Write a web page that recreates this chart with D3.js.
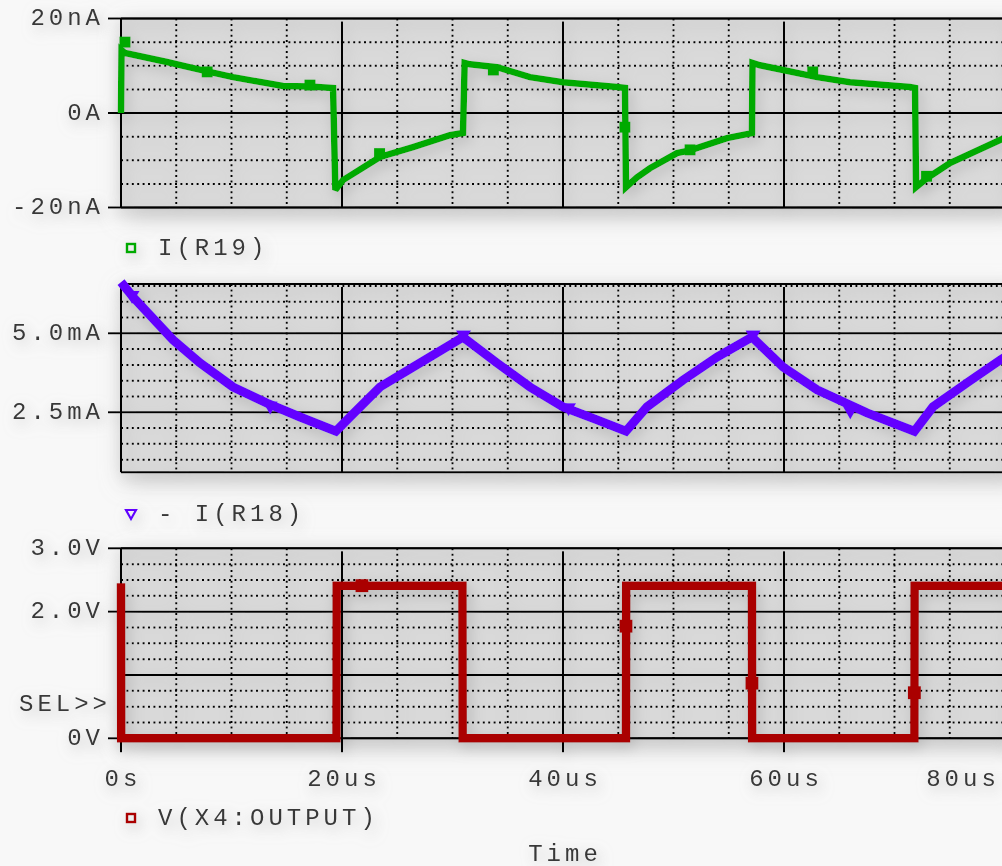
<!DOCTYPE html>
<html>
<head>
<meta charset="utf-8">
<script src="https://cdn.jsdelivr.net/npm/d3@7"></script>
<style>
  html, body { margin: 0; padding: 0; background: #f8f8f8; }
  svg { display: block; }
  text { font-family: "Liberation Mono", "DejaVu Sans Mono", monospace; font-size: 24px; fill: #383838; letter-spacing: 4px; }
</style>
</head>
<body>
<svg id="chart" width="1002" height="866"></svg>
<script>
// ---- data (time in microseconds) ----
const timeTicks = [0, 20, 40, 60, 80];
const timeLabels = ["0s", "20us", "40us", "60us", "80us"];

// I(R19) in nA
const r19Ticks = [20, 0, -20];
const r19Labels = ["20nA", "0A", "-20nA"];
const r19T = [0, 0.05, 0.36, 4.16, 7.8, 10.14, 14.66, 17.1, 19.19, 19.4, 20.09, 23.44, 26.43, 29.77, 30.95,
              31.1, 31.58, 34.03, 37.01, 40.0, 44.89, 45.61, 45.7, 46.7, 47.87, 50.32, 51.49, 54.84, 57.1,
              57.15, 57.83, 59.91, 62.99, 65.97, 71.4, 71.86, 71.95, 72.94, 75.02, 79.55, 80];
const r19V = [0, 13.3, 12.7, 10.8, 8.8, 7.6, 5.7, 5.6, 5.3, -16.3, -14.2, -9.3, -7.2, -4.7, -4.25,
              10.6, 10.3, 9.7, 7.6, 6.5, 5.5, 5.3, -15.7, -13.6, -11.7, -8.5, -7.9, -5.3, -4.25,
              10.6, 10.1, 9.1, 7.6, 6.5, 5.5, 5.3, -15.7, -13.8, -10.6, -5.7, -5.2];
const r19MarkT = [0.36, 7.8, 17.1, 23.4, 33.7, 45.6, 51.5, 62.6, 72.9];
const r19MarkV = [15.0, 8.7, 5.9, -8.6, 9.1, -3.0, -7.8, 8.7, -13.4];

// -I(R18) in mA
const r18Ticks = [5.0, 2.5];
const r18Labels = ["5.0mA", "2.5mA"];
const r18T = [0, 1.09, 4.71, 7.15, 10.14, 13.21, 16.2, 19.45, 20.72, 23.44, 26.43, 30.95,
              34.03, 37.01, 40.0, 43.08, 45.7, 47.6, 50.86, 53.94, 57.1,
              59.91, 62.99, 67.51, 71.8, 73.48, 76.56, 79.55, 80];
const r18V = [6.62, 6.15, 4.79, 4.06, 3.3, 2.79, 2.35, 1.9, 2.35, 3.3, 3.93, 4.88,
              4.06, 3.3, 2.67, 2.26, 1.9, 2.67, 3.52, 4.25, 4.88,
              3.93, 3.21, 2.48, 1.9, 2.67, 3.43, 4.15, 4.25];
const r18MarkT = [1.0, 13.5, 31.0, 40.5, 57.2, 66.0];
const r18MarkV = [6.2, 2.7, 4.95, 2.65, 4.95, 2.55];

// V(X4:OUTPUT) in V
const outTicks = [3.0, 2.0, 0];
const outLabels = ["3.0V", "2.0V", "0V"];
const outT = [0, 0.02, 19.5, 19.52, 30.9, 30.92, 45.7, 45.72, 57.1, 57.12, 71.8, 71.82, 80];
const outV = [2.45, 0, 0, 2.41, 2.41, 0, 0, 2.41, 2.41, 0, 0, 2.41, 2.41];
const outMarkT = [21.8, 45.7, 57.1, 71.8];
const outMarkV = [2.41, 1.77, 0.87, 0.72];

// ---- layout ----
const W = 1002, H = 866;
const left = 121, right = 1005;
const x = d3.scaleLinear().domain([0, 80]).range([left, right]);

const panels = [
  { y: d3.scaleLinear().domain([-20, 20]).range([207.5, 18.5]),
    major: [-20, 0, 20], minorStep: 5, ticks: r19Ticks, labels: r19Labels },
  { y: d3.scaleLinear().domain([0.6, 6.56]).range([472.3, 284]),
    major: [2.5, 5.0], minorStep: 0.5, ticks: r18Ticks, labels: r18Labels },
  { y: d3.scaleLinear().domain([0, 3]).range([738.3, 548.3]),
    major: [0, 1, 2, 3], minorStep: 0.25, ticks: outTicks, labels: outLabels }
];

const svg = d3.select("#chart");
const defs = svg.append("defs");

// soft grey halo filters
function halo(id, blur, dx, dy, alpha, grey) {
  const f = defs.append("filter").attr("id", id)
    .attr("filterUnits", "userSpaceOnUse")
    .attr("x", -50).attr("y", -50).attr("width", W + 100).attr("height", H + 100);
  f.append("feGaussianBlur").attr("in", "SourceAlpha").attr("stdDeviation", blur).attr("result", "blur");
  f.append("feOffset").attr("in", "blur").attr("dx", dx).attr("dy", dy).attr("result", "off");
  f.append("feColorMatrix").attr("in", "off").attr("type", "matrix")
    .attr("values", `0 0 0 0 ${grey}  0 0 0 0 ${grey}  0 0 0 0 ${grey}  0 0 0 ${alpha} 0`).attr("result", "shadow");
  const m = f.append("feMerge");
  m.append("feMergeNode").attr("in", "shadow");
  m.append("feMergeNode").attr("in", "SourceGraphic");
}
halo("haloBox", 12, 4, 8, 0.85, 0.5);
halo("haloInk", 7, 3, 5, 0.75, 0.4);

const root = svg.append("g");
const boxLayer = root.append("g").attr("filter", "url(#haloBox)");
const inkLayer = root.append("g").attr("filter", "url(#haloInk)");

panels.forEach((p, i) => {
  const [yb, yt] = p.y.range();
  boxLayer.append("rect").attr("x", left).attr("y", yt).attr("width", right - left + 10).attr("height", yb - yt)
    .attr("fill", "#dadada");
  const g = inkLayer.append("g");

  // dotted minor grid
  const [d0, d1] = p.y.domain();
  const minors = d3.range(Math.ceil(d0 / p.minorStep) * p.minorStep, d1 + 1e-9, p.minorStep)
    .filter(v => !p.major.some(mv => Math.abs(mv - v) < 1e-6));
  g.selectAll(".hmin").data(minors).join("line")
    .attr("x1", left).attr("x2", right + 10)
    .attr("y1", d => p.y(d)).attr("y2", d => p.y(d))
    .attr("stroke", "#000").attr("stroke-width", 2).attr("stroke-dasharray", "2,3.4");
  const vmin = d3.range(5, 80, 5).filter(t => t % 20 !== 0);
  g.selectAll(".vmin").data(vmin).join("line")
    .attr("x1", d => x(d)).attr("x2", d => x(d))
    .attr("y1", yt).attr("y2", yb)
    .attr("stroke", "#000").attr("stroke-width", 2).attr("stroke-dasharray", "2,3.4");

  // solid major grid
  g.selectAll(".hmaj").data(p.major).join("line")
    .attr("x1", left).attr("x2", right + 10)
    .attr("y1", d => p.y(d)).attr("y2", d => p.y(d))
    .attr("stroke", "#000").attr("stroke-width", 2);
  // plot frame top/bottom
  g.selectAll(".frame").data([yt, yb]).join("line")
    .attr("x1", left).attr("x2", right + 10)
    .attr("y1", d => d).attr("y2", d => d)
    .attr("stroke", "#000").attr("stroke-width", 2);
  const vBottom = i === 2 ? yb + 14 : yb;
  g.selectAll(".vmaj").data(timeTicks).join("line")
    .attr("x1", d => x(d)).attr("x2", d => x(d))
    .attr("y1", d => d === 0 ? yt : yt + 3).attr("y2", vBottom)
    .attr("stroke", "#000").attr("stroke-width", 2);

  // left ticks and labels
  g.selectAll(".ytick").data(p.ticks).join("line")
    .attr("x1", 108).attr("x2", left)
    .attr("y1", d => p.y(d)).attr("y2", d => p.y(d))
    .attr("stroke", "#000").attr("stroke-width", 2);
  g.selectAll(".ylab").data(p.ticks).join("text")
    .attr("x", 104).attr("y", d => p.y(d))
    .attr("text-anchor", "end").attr("dominant-baseline", "central")
    .text((d, k) => p.labels[k]);
  p.g = g;
});

// SEL>> marker on the lower panel
inkLayer.append("text").attr("x", 111).attr("y", 704)
  .attr("text-anchor", "end").attr("dominant-baseline", "central").text("SEL>>");

// time axis labels (the last one is kept inside the frame)
inkLayer.selectAll(".xlab").data(timeTicks).join("text")
  .attr("x", d => Math.min(x(d) + 2, 963)).attr("y", 779)
  .attr("text-anchor", "middle").attr("dominant-baseline", "central")
  .text((d, k) => timeLabels[k]);
inkLayer.append("text").attr("x", 565).attr("y", 854)
  .attr("text-anchor", "middle").attr("dominant-baseline", "central").text("Time");

// ---- traces ----
function trace(panel, ts, vs, color, width) {
  const pts = ts.map((t, k) => [t, vs[k]]);
  panels[panel].g.append("path")
    .attr("d", d3.line().x(d => x(d[0])).y(d => panels[panel].y(d[1]))(pts))
    .attr("fill", "none").attr("stroke", color).attr("stroke-width", width)
    .attr("stroke-linejoin", "miter").attr("stroke-miterlimit", 3);
}
function squares(panel, ts, vs, color, s) {
  panels[panel].g.selectAll(null).data(ts).join("rect")
    .attr("x", (d) => x(d) - s / 2).attr("y", (d, k) => panels[panel].y(vs[k]) - s / 2)
    .attr("width", s).attr("height", s).attr("fill", color);
}
function triangles(panel, ts, vs, color, s) {
  const sym = d3.symbol().type(d3.symbolTriangle).size(s * s * 0.5);
  panels[panel].g.selectAll(null).data(ts).join("path")
    .attr("transform", (d, k) => `translate(${x(d)},${panels[panel].y(vs[k])}) rotate(180)`)
    .attr("d", sym).attr("fill", color);
}

const green = "#00aa00", purple = "#6400ff", red = "#aa0000";
trace(0, r19T, r19V, green, 6.5);
squares(0, r19MarkT, r19MarkV, green, 11);
trace(1, r18T, r18V, purple, 9);
triangles(1, r18MarkT, r18MarkV, purple, 14);
trace(2, outT, outV, red, 8.5);
squares(2, outMarkT, outMarkV, red, 13);

// ---- legends ----
const legends = [
  { y: 248, text: "I(R19)", color: green, shape: "square" },
  { y: 514, text: "- I(R18)", color: purple, shape: "tri" },
  { y: 818, text: "V(X4:OUTPUT)", color: red, shape: "square" }
];
legends.forEach(l => {
  if (l.shape === "square") {
    inkLayer.append("rect").attr("x", 127).attr("y", l.y - 4).attr("width", 8).attr("height", 8)
      .attr("fill", "none").attr("stroke", l.color).attr("stroke-width", 2.5);
  } else {
    inkLayer.append("path").attr("d", `M126,${l.y - 4} L136,${l.y - 4} L131,${l.y + 5} Z`)
      .attr("fill", "none").attr("stroke", l.color).attr("stroke-width", 2.2);
  }
  inkLayer.append("text").attr("x", 158).attr("y", l.y).attr("dominant-baseline", "central").text(l.text);
});
</script>
</body>
</html>
